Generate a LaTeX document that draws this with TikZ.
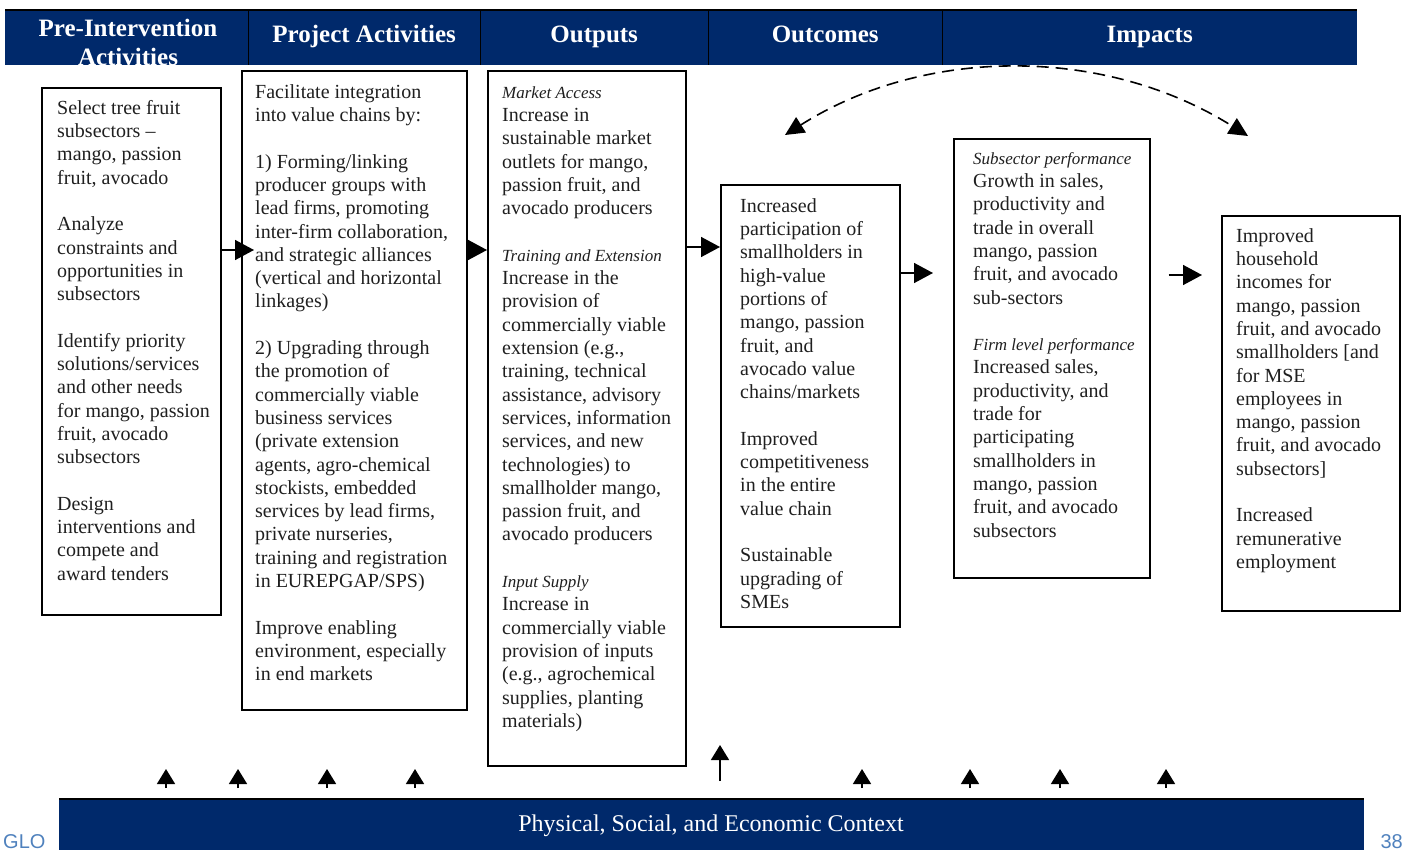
\documentclass[tikz,border=0pt]{standalone}
\usepackage{fontspec}
\setmainfont{Liberation Serif}
\newfontfamily\footfont{Liberation Sans}
\usetikzlibrary{arrows.meta}
\definecolor{navy}{RGB}{0,41,107}
\definecolor{footblue}{RGB}{79,129,189}
\newcommand\sublabel[1]{{\itshape\fontsize{17}{23.3}\selectfont #1}}
\begin{document}
\begin{tikzpicture}[x=1pt,y=-1pt,
  box/.style={draw=black,line width=1.6pt,anchor=north west,inner sep=0pt},
  body/.style={anchor=north west,inner sep=0pt,align=left,font=\fontsize{20}{23.3}\selectfont,text=black!88},
  cell/.style={fill=navy,anchor=north west,inner sep=0pt,minimum height=55pt},
  htext/.style={text=white,font=\bfseries\fontsize{25}{29}\selectfont,align=center,inner sep=0pt},
  htitle/.style={text=white,font=\bfseries\fontsize{25}{29}\selectfont,inner sep=0pt,text height=17pt,text depth=5pt},
  arr/.style={line width=1.5pt,-{Triangle[length=19pt,width=20pt]}},
  uparr/.style={line width=1.5pt,-{Triangle[length=15pt,width=18pt]}},
  dasharr/.style={line width=1.6pt,dash pattern=on 12pt off 7pt,{Triangle[length=19pt,width=18pt]}-{Triangle[length=19pt,width=18pt]}},
]
\useasboundingbox (0,0) rectangle (1404,850);

% ---------- header ----------
\node[cell,minimum width=243pt] (h1) at (5,10) {};
\node[cell,minimum width=232pt] (h2) at (248,10) {};
\node[cell,minimum width=228pt] (h3) at (480,10) {};
\node[cell,minimum width=234pt] (h4) at (708,10) {};
\node[cell,minimum width=415pt] (h5) at (942,10) {};
\draw[line width=2pt] (h1.north west) -- (h5.north east);
\foreach \c in {h1,h2,h3,h4}{\draw[line width=1.3pt] (\c.north east) -- (\c.south east);}
\begin{scope}
  \clip (h1.north west) rectangle (h1.south east);
  \node[htext] (t0) at (128,42.5) {Pre-Intervention\\Activities};
\end{scope}
\node[htitle] (th2) at ([yshift=1pt]h2.center) {Project Activities};
\node[htitle] (th3) at ([yshift=1pt]h3.center) {Outputs};
\node[htitle] (th4) at ([yshift=1pt]h4.center) {Outcomes};
\node[htitle] (th5) at ([yshift=1pt]h5.center) {Impacts};

% ---------- boxes ----------
\node[box,minimum width=179pt,minimum height=527pt] (b1) at (41,87) {};
\node[box,minimum width=225pt,minimum height=639pt] (b2) at (241,70) {};
\node[box,minimum width=198pt,minimum height=695pt] (b3) at (487,70) {};
\node[box,minimum width=179pt,minimum height=442pt] (b4) at (720,184) {};
\node[box,minimum width=196pt,minimum height=439pt] (b5) at (953,138) {};
\node[box,minimum width=178pt,minimum height=395pt] (b6) at (1221,215) {};

\node[body] (x1) at (57,97.7) {\strut Select tree fruit\\
subsectors --\\
mango, passion\\
fruit, avocado\\[23.3pt]
Analyze\\
constraints and\\
opportunities in\\
subsectors\\[23.3pt]
Identify priority\\
solutions/services\\
and other needs\\
for mango, passion\\
fruit, avocado\\
subsectors\\[23.3pt]
Design\\
interventions and\\
compete and\\
award tenders};

\node[body] (x2) at (255,81.7) {\strut Facilitate integration\\
into value chains by:\\[23.3pt]
1) Forming/linking\\
producer groups with\\
lead firms, promoting\\
inter-firm collaboration,\\
and strategic alliances\\
(vertical and horizontal\\
linkages)\\[23.3pt]
2) Upgrading through\\
the promotion of\\
commercially viable\\
business services\\
(private extension\\
agents, agro-chemical\\
stockists, embedded\\
services by lead firms,\\
private nurseries,\\
training and registration\\
in EUREPGAP/SPS)\\[23.3pt]
Improve enabling\\
environment, especially\\
in end markets};

\node[body] (x3) at (502,81.7) {\strut\sublabel{Market Access}\\
Increase in\\
sustainable market\\
outlets for mango,\\
passion fruit, and\\
avocado producers\\[23.3pt]
\sublabel{Training and Extension}\\
Increase in the\\
provision of\\
commercially viable\\
extension (e.g.,\\
training, technical\\
assistance, advisory\\
services, information\\
services, and new\\
technologies) to\\
smallholder mango,\\
passion fruit, and\\
avocado producers\\[23.3pt]
\sublabel{Input Supply}\\
Increase in\\
commercially viable\\
provision of inputs\\
(e.g., agrochemical\\
supplies, planting\\
materials)};

\node[body] (x4) at (740,195.7) {\strut Increased\\
participation of\\
smallholders in\\
high-value\\
portions of\\
mango, passion\\
fruit, and\\
avocado value\\
chains/markets\\[23.3pt]
Improved\\
competitiveness\\
in the entire\\
value chain\\[23.3pt]
Sustainable\\
upgrading of\\
SMEs};

\node[body] (x5) at (973,147.7) {\strut\sublabel{Subsector performance}\\
Growth in sales,\\
productivity and\\
trade in overall\\
mango, passion\\
fruit, and avocado\\
sub-sectors\\[23.3pt]
\sublabel{Firm level performance}\\
Increased sales,\\
productivity, and\\
trade for\\
participating\\
smallholders in\\
mango, passion\\
fruit, and avocado\\
subsectors};

\node[body] (x6) at (1236,225.7) {\strut Improved\\
household\\
incomes for\\
mango, passion\\
fruit, and avocado\\
smallholders [and\\
for MSE\\
employees in\\
mango, passion\\
fruit, and avocado\\
subsectors]\\[23.3pt]
Increased\\
remunerative\\
employment};

% ---------- horizontal arrows ----------
\draw[arr] (b1.east |- 0,250) -- ([xshift=13pt]b2.west |- 0,250);
\draw[arr] (b2.east |- 0,250) -- (b3.west |- 0,250);
\draw[arr] (b3.east |- 0,247) -- (b4.west |- 0,247);
\draw[arr] (b4.east |- 0,273) -- ([xshift=-20pt]b5.west |- 0,273);
\draw[arr] ([xshift=18pt]b5.east |- 0,275) -- ([xshift=-19pt]b6.west |- 0,275);

% ---------- dashed feedback arrow ----------
\coordinate (dl) at (785,135);
\coordinate (dr) at (1248,136);
\draw[dasharr] (dl) .. controls (925,46) and (1105,46) .. (dr);

% ---------- footer ----------
\node[anchor=base west,inner sep=0pt,font=\footfont\fontsize{20}{24}\selectfont,text=footblue] (glo) at (3,848) {GLO};
\node[anchor=base east,inner sep=0pt,font=\footfont\fontsize{20}{24}\selectfont,text=footblue] (pg) at (1403,848) {38};
\node[fill=navy,anchor=north west,inner sep=0pt,minimum width=1305pt,minimum height=60pt] (ctx) at (59,799) {};
\draw[line width=2pt] (ctx.north west) -- (ctx.north east);
\node[text=white,inner sep=0pt,font=\fontsize{24}{28}\selectfont] (ctxt) at (711,826) {Physical, Social, and Economic Context};

% ---------- context arrows ----------
\foreach \xx in {166,238,327,415,862,970,1060,1166}{
  \draw[uparr] ([yshift=11pt]ctx.north -| \xx,0) -- ++(0,-19);
}
\draw[uparr] ([yshift=18pt]ctx.north -| b4.west) -- ++(0,-36);
\end{tikzpicture}
\end{document}
